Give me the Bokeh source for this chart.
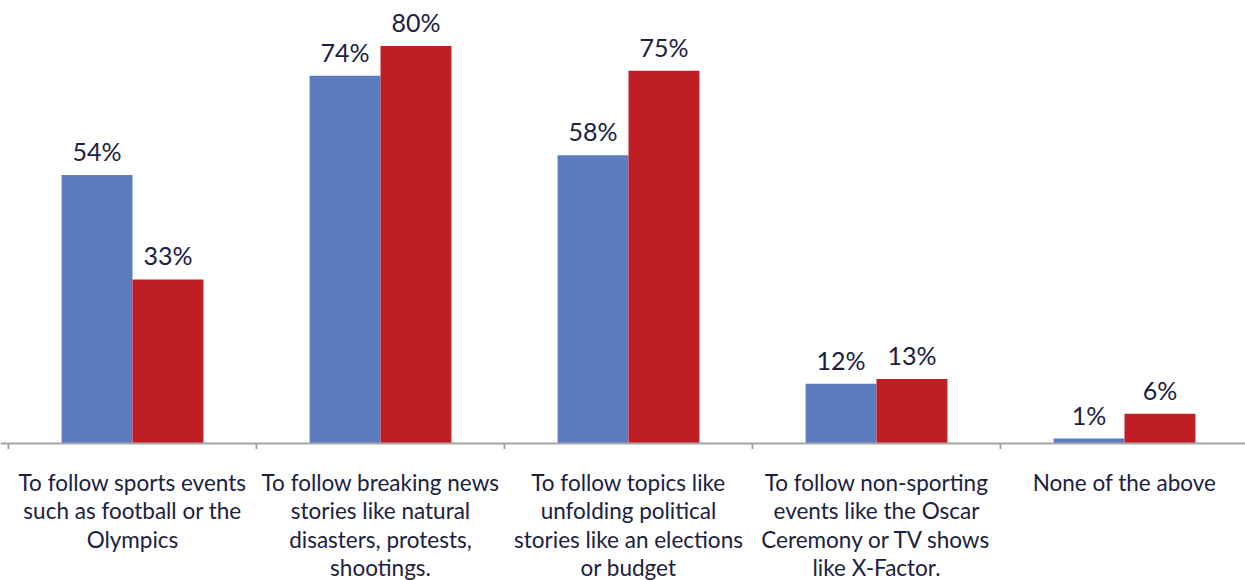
from bokeh.plotting import figure
from bokeh.models import ColumnDataSource, Range1d, Span
from bokeh.core.properties import value
from bokeh.embed import file_html
from bokeh.resources import INLINE

categories = [
    "To follow sports events\nsuch as football or the\nOlympics",
    "To follow breaking news\nstories like natural\ndisasters, protests,\nshootings.",
    "To follow topics like\nunfolding political\nstories like an elections\nor budget",
    "To follow non-sporting\nevents like the Oscar\nCeremony or TV shows\nlike X-Factor.",
    "None of the above",
]
series_a = [54, 74, 58, 12, 1]
series_b = [33, 80, 75, 13, 6]

BLUE = "#5b7dc0"
RED = "#c01e25"
TEXT = "#1b2140"
AXIS = "#a6a6a6"
FONT = value("Lato")

W, H = 1245, 580
PX_PER_UNIT = 248.0
PX_PER_PCT = 4.97
ZERO_PX = 443.0   # axis position measured from figure top
LEFT_PX = 8.0     # first category boundary from figure left

x0 = -0.5 - LEFT_PX / PX_PER_UNIT
x1 = x0 + W / PX_PER_UNIT
y_top = ZERO_PX / PX_PER_PCT
y_bot = -(H - ZERO_PX) / PX_PER_PCT

p = figure(width=W, height=H, output_backend="svg", toolbar_location=None,
           x_range=Range1d(x0, x1), y_range=Range1d(y_bot, y_top),
           x_axis_location=None, y_axis_location=None,
           min_border=0, outline_line_color=None)
p.xgrid.visible = False
p.ygrid.visible = False
p.background_fill_color = "white"

n = len(categories)
xs = list(range(n))
bw = 0.286
src = ColumnDataSource(dict(
    xa=[x - bw / 2 for x in xs], xb=[x + bw / 2 for x in xs],
    a=series_a, b=series_b,
    la=[f"{v}%" for v in series_a], lb=[f"{v}%" for v in series_b],
    x=xs, cat=categories, zero=[0] * n,
))

p.vbar(x="xa", top="a", width=bw, source=src, fill_color=BLUE, line_color=None)
p.vbar(x="xb", top="b", width=bw, source=src, fill_color=RED, line_color=None)

p.text(x="xa", y="a", text="la", source=src, text_align="center",
       text_baseline="alphabetic", y_offset=-24, text_font=FONT,
       text_font_size="25px", text_color=TEXT)
p.text(x="xb", y="b", text="lb", source=src, text_align="center",
       text_baseline="alphabetic", y_offset=-24, text_font=FONT,
       text_font_size="25px", text_color=TEXT)

# axis line and boundary ticks
p.add_layout(Span(location=0, dimension="width", line_color=AXIS, line_width=2))
bounds = [i - 0.5 for i in range(n + 1)]
tick_len = 5.5 / PX_PER_PCT
p.segment(x0=bounds, x1=bounds, y0=[0] * len(bounds), y1=[-tick_len] * len(bounds),
          line_color=AXIS, line_width=2)

# category labels
p.text(x="x", y="zero", text="cat", source=src, text_align="center",
       text_baseline="top", y_offset=25, text_font=FONT, text_font_size="22.5px",
       text_line_height=1.06, text_color=TEXT)

open("out.html", "w").write(file_html(p, INLINE))
